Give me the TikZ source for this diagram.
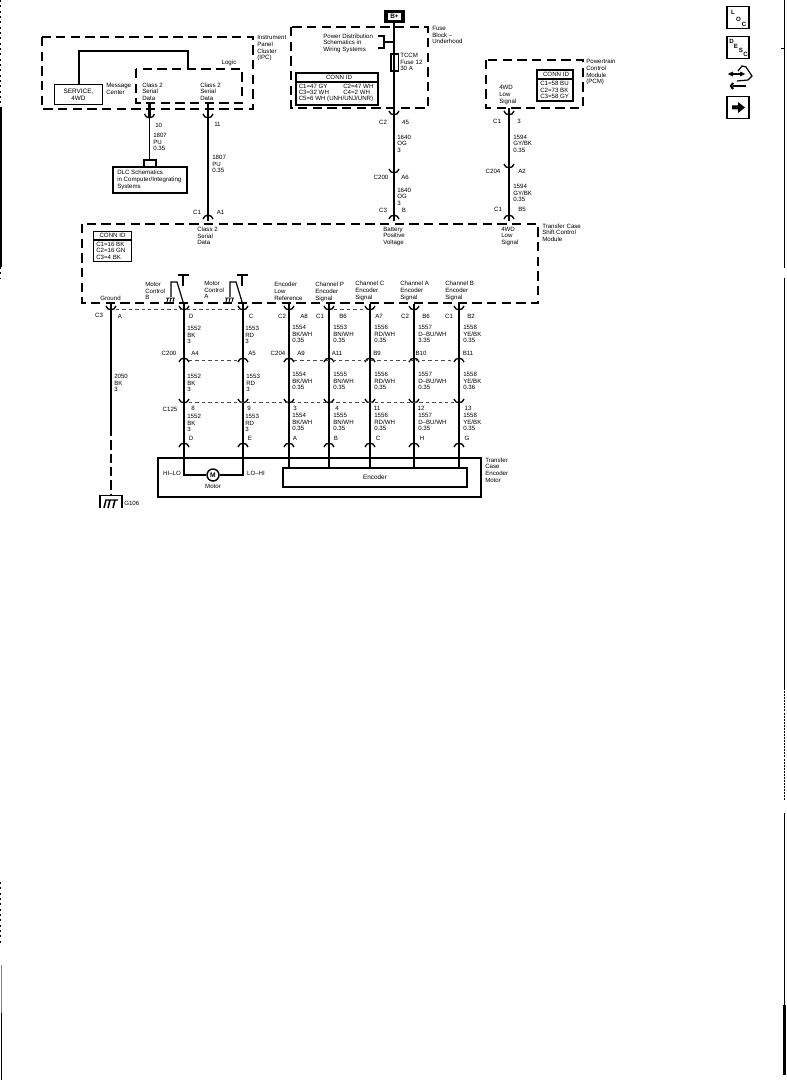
\documentclass[tikz,border=0pt]{standalone}
\usepackage{fontspec}
\setmainfont{Liberation Sans}
\usetikzlibrary{calc}
\tikzset{
  dbox/.style={draw,line width=1pt,dash pattern=on 7pt off 4pt},
  sbox/.style={draw,line width=0.9pt,fill=white},
  wire/.style={line width=0.9pt},
  stub/.style={line width=2pt},
  link/.style={line width=0.7pt,dash pattern=on 2.6pt off 2.2pt,black!70},
  lab/.style={font=\fontsize{4.6}{5}\selectfont,align=left,inner sep=0pt,anchor=north west},
  pinlab/.style={font=\fontsize{4.6}{5}\selectfont,inner sep=0pt},
  iconlet/.style={font=\fontsize{4.6}{5}\selectfont\bfseries,inner sep=0pt},
}
\newcommand{\cupc}[3]{%
  \coordinate (#1) at (#2,#3);
  \draw[line width=1pt] (#2-5,#3-4) .. controls (#2-4,#3+1) and (#2+4,#3+1) .. (#2+5,#3-4);
  \draw[stub] (#2,#3-6) -- (#2,#3);}
\newcommand{\capc}[3]{%
  \coordinate (#1) at (#2,#3);
  \draw[line width=1pt] (#2-5,#3+4) .. controls (#2-4,#3-1) and (#2+4,#3-1) .. (#2+5,#3+4);
  \draw[stub] (#2,#3) -- (#2,#3+6);}
\newcommand{\wirelab}[4]{\node[lab] at (#1,#2) {#3\\#4};}
\begin{document}
\begin{tikzpicture}[x=0.75pt,y=-0.75pt]
\useasboundingbox (0,0) rectangle (786,1080);
\fill[white] (0,0) rectangle (786,1080);

% ---- page edges
\draw[line width=0.8pt] (784.7,0) -- (784.7,268);
\draw[line width=0.8pt] (784.7,278) -- (784.7,688);
\draw[line width=0.8pt,dash pattern=on 1.5pt off 0.8pt] (784.7,688) -- (784.7,801);
\draw[line width=0.8pt] (784.7,813) -- (784.7,1005);
\draw[line width=1.8pt] (784.5,1005) -- (784.5,1075);
\draw[line width=0.6pt] (781,48) -- (785,48);
\draw[line width=0.9pt,dash pattern=on 1.5pt off 2.5pt] (0.7,0) -- (0.7,107);
\draw[line width=1.3pt] (0.7,107) -- (0.7,267);
\draw[line width=0.9pt,dash pattern=on 1.5pt off 2.5pt] (0.7,267) -- (0.7,278);
\draw[line width=0.9pt,dash pattern=on 1.5pt off 2.5pt] (0.7,882) -- (0.7,943);
\draw[line width=0.8pt,black!50] (1.3,965) -- (1.3,1013);
\draw[line width=1.1pt] (1.3,1013) -- (1.3,1080);

% ---- IPC
\draw[dbox] (42,37) rectangle (253,109);
\draw[dbox] (136,69) rectangle (242,103);
\node[sbox,minimum width=36.5pt,minimum height=15.5pt,inner sep=0pt,font=\fontsize{4.8}{5.4}\selectfont,align=center] (svc) at (78.5,94.5) {SERVICE,\\4WD};
\coordinate (lg) at (188,69);
\draw[wire] (79,84) |- (188,51) -- (lg);
\node[lab] at (106,83) {Message\\Center};
\node[lab] at (142,82.5) {Class 2\\Serial\\Data};
\node[lab] at (200,82.5) {Class 2\\Serial\\Data};
\node[pinlab] at (229,63) {Logic};
\node[lab] at (257,35.5) {Instrument\\Panel\\Cluster\\(IPC)};

% ---- DLC
\node[sbox,minimum width=55.5pt,minimum height=19.5pt,inner sep=0pt] (dlc) at (150,180) {};
\node[lab] at (117,170) {DLC Schematics\\in Computer/Integrating\\Systems};
\cupc{c10}{149.5}{118}
\cupc{c11}{208}{118}
\draw[stub] (149.5,103) -- (c10);
\draw[stub] (208,103) -- (c11);
\coordinate (brk) at (149.5,160);
\draw[wire] (c10) -- (brk);
\draw[line width=1pt] (144,167) -- (144,160) -- (156,160) -- (156,167);
\node[pinlab,anchor=west] at (155,125) {10};
\node[pinlab,anchor=west] at (214,124.5) {11};
\node[lab] at (153,133) {1807\\PU\\0.35};
\node[lab] at (212,155) {1807\\PU\\0.35};
\node[pinlab] at (197,212) {C1};
\node[pinlab] at (220.5,212) {A1};

% ---- Fuse block
\node[draw,line width=2.6pt,minimum width=12.5pt,minimum height=7.5pt,inner sep=0pt,font=\fontsize{4.8}{5}\selectfont\bfseries] (bp) at (394.5,16.5) {B+};
\draw[dbox] (291,27) rectangle (428,108);
\node[sbox,minimum width=5.4pt,minimum height=12.8pt,inner sep=0pt,fill=none] (fuse) at (394.5,62.5) {};
\cupc{c45}{394}{115}
\draw[wire] (394,23) -- (394,108);
\draw[stub] (394,108) -- (c45);
\draw[line width=0.9pt] (378,36) -- (384,36) -- (384,48) -- (378,48);
\draw[line width=0.9pt] (384,42) -- (394,42);
\node[lab] at (323,33.5) {Power Distribution\\Schematics in\\Wiring Systems};
\node[lab] at (400,53) {TCCM\\Fuse 12\\30 A};
\node[lab] at (432,26) {Fuse\\Block –\\Underhood};
\node[sbox,minimum width=61.5pt,minimum height=24pt,inner sep=0pt] (cn1) at (337,89) {};
\draw[line width=0.9pt] (296,82) -- (378,82);
\node[pinlab] at (339,77.5) {CONN ID};
\node[lab] at (298.5,84) {C1=47 GY};
\node[lab] at (343,84) {C2=47 WH};
\node[lab] at (298.5,90) {C3=32 WH};
\node[lab] at (343,90) {C4=2 WH};
\node[lab] at (298.5,96) {C5=6 WH (UNH/UNJ/UNR)};

% ---- B+ wire down
\capc{cb}{394}{215}
\cupc{ca6}{394}{173}
\draw[wire] (c45) -- (394,167);
\draw[wire] (ca6) -- (cb);
\node[pinlab] at (383,122) {C2};
\node[pinlab] at (405.5,122) {45};
\node[lab] at (397,134.5) {1640\\OG\\3};
\node[pinlab] at (381,177.5) {C200};
\node[pinlab] at (405,177) {A6};
\node[lab] at (397,187.5) {1640\\OG\\3};
\node[pinlab] at (383,210) {C3};
\node[pinlab] at (404,210) {B};

% ---- PCM
\draw[dbox] (486,60) rectangle (583,108);
\node[sbox,minimum width=27pt,minimum height=23.3pt,inner sep=0pt] (cn2) at (555,85.5) {};
\draw[line width=0.9pt] (537,79) -- (573,79);
\node[pinlab] at (556,74.5) {CONN ID};
\node[lab] at (540,81) {C1=58 BU\\C2=73 BK\\C3=58 GY};
\node[lab] at (499,85.5) {4WD\\Low\\Signal};
\node[lab] at (586,59) {Powertrain\\Control\\Module\\(PCM)};
\cupc{c3}{509}{115}
\cupc{ca2}{509}{168}
\capc{cb5}{509}{215}
\draw[stub] (509,108) -- (c3);
\draw[wire] (c3) -- (509,162);
\draw[wire] (ca2) -- (cb5);
\node[pinlab] at (497,121.5) {C1};
\node[pinlab] at (519,121.5) {3};
\node[lab] at (513,134.5) {1594\\GY/BK\\0.35};
\node[pinlab] at (493,171) {C204};
\node[pinlab] at (522,171) {A2};
\node[lab] at (513,184) {1594\\GY/BK\\0.35};
\node[pinlab] at (498,209) {C1};
\node[pinlab] at (522,209) {B5};

% ---- TCCM module
\draw[dbox] (82,224) rectangle (538,303);
\capc{ca1}{208}{215}
\draw[wire] (c11) -- (ca1);
\node[lab,fill=white,inner ysep=0.5pt] at (197,226) {Class 2\\Serial\\Data};
\node[lab,fill=white,inner ysep=0.5pt] at (383,226) {Battery\\Positive\\Voltage};
\node[lab,fill=white,inner ysep=0.5pt] at (501,226) {4WD\\Low\\Signal};
\node[lab] at (542,223.5) {Transfer Case\\Shift Control\\Module};
\node[sbox,minimum width=29pt,minimum height=23pt,inner sep=0pt] (cn3) at (112.5,246.5) {};
\draw[line width=0.9pt] (93,240) -- (132,240);
\node[pinlab] at (112.5,235.5) {CONN ID};
\node[lab] at (96,241.5) {C1=16 BK\\C2=16 GN\\C3=4 BK};
% switches
\draw[line width=0.9pt] (171,297) -- (171,282) -- (177,282) -- (184,305);
\draw[line width=0.9pt] (183,275) -- (183,286) (178,275) -- (189,275);
\draw[line width=0.7pt] (166,298) -- (175,298) (168,298) -- (167,302) (171,298) -- (170,302) (174,298) -- (173,302);
\draw[line width=0.9pt] (230,297) -- (230,282) -- (236,282) -- (243,305);
\draw[line width=0.9pt] (242,275) -- (242,286) (237,275) -- (248,275);
\draw[line width=0.7pt] (225,298) -- (234,298) (227,298) -- (226,302) (230,298) -- (229,302) (233,298) -- (232,302);
\node[lab] at (145,282) {Motor\\Control\\B};
\node[lab] at (204,281) {Motor\\Control\\A};
\node[lab] at (274,282) {Encoder\\Low\\Reference};
\node[lab] at (315,282) {Channel P\\Encoder\\Signal};
\node[lab] at (355,281) {Channel C\\Encoder\\Signal};
\node[lab] at (400,281) {Channel A\\Encoder\\Signal};
\node[lab] at (445,281) {Channel B\\Encoder\\Signal};
\node[pinlab,anchor=west] at (100,298.5) {Ground};

% ---- lower harness
\foreach \n/\xx in {g/111,d/184,e/243,a/289,b/329,c/370,h/414,j/459}{
  \cupc{t\n}{\xx}{310}
}
\foreach \n/\xx in {d/184,e/243,a/289,b/329,c/370,h/414,j/459}{
  \capc{m\n}{\xx}{358}
  \cupc{l\n}{\xx}{403}
  \capc{p\n}{\xx}{443}
  \draw[wire] (t\n) -- (m\n);
  \draw[wire] (m\n) -- (l\n);
  \draw[wire] (l\n) -- (p\n);
}
\draw[link] (116,309) -- (238,309);
\draw[link] (334,309) -- (365,309);
\draw[link] (189,360) -- (238,360);
\draw[link] (294,360) -- (454,360);
\draw[link] (189,402) -- (454,402);

% ground wire
\coordinate (gs) at (111,427);
\coordinate (gr) at (111,496);
\draw[wire] (tg) -- (gs);
\draw[wire,dash pattern=on 7pt off 3pt] (gs) -- (gr);
\draw[line width=1.1pt] (100,508) -- (100,495.5) -- (122,495.5) -- (122,508);
\draw[line width=1.1pt] (104,508) -- (106,500) -- (118,500) (110,500) -- (108,508) (115,500) -- (113,508);
\node[pinlab,anchor=west] at (124,503) {G106};
\node[pinlab] at (99,315.5) {C3};
\node[pinlab] at (120,316) {A};
\node[lab] at (114,374) {2050\\BK\\3};

\foreach \xx/\t in {191/D,251/C,304/A8,282/C2,343/B6,320/C1,379/A7,405/C2,426/B6,449/C1,471/B2}{
  \node[pinlab] at (\xx,316) {\t};}
\wirelab{187}{326}{1552\\BK}{3}
\wirelab{245}{326}{1553\\RD}{3}
\wirelab{292}{325}{1554\\BK/WH}{0.35}
\wirelab{333}{325}{1553\\BN/WH}{0.35}
\wirelab{374}{325}{1556\\RD/WH}{0.35}
\wirelab{418}{325}{1557\\D–BU/WH}{3.35}
\wirelab{463}{325}{1558\\YE/BK}{0.35}
\node[pinlab] at (169,353.5) {C200};
\node[pinlab] at (278,353.5) {C204};
\foreach \xx/\t in {195/A4,252/A5,301/A9,337/A11,377/B9,421/B10,468/B11}{
  \node[pinlab] at (\xx,353) {\t};}
\wirelab{187}{374}{1552\\BK}{3}
\wirelab{246}{374}{1553\\RD}{3}
\wirelab{292}{372}{1554\\BK/WH}{0.35}
\wirelab{333}{372}{1555\\BN/WH}{0.35}
\wirelab{374}{372}{1556\\RD/WH}{0.35}
\wirelab{418}{372}{1557\\D–BU/WH}{0.35}
\wirelab{463}{372}{1558\\YE/BK}{0.36}
\node[pinlab] at (170,409) {C125};
\foreach \xx/\t in {193/8,249/9,295/3,337/4,377/11,421/12,468/13}{
  \node[pinlab] at (\xx,408.5) {\t};}
\wirelab{187}{414}{1552\\BK}{3}
\wirelab{245}{414}{1553\\RD}{3}
\wirelab{292}{413}{1554\\BK/WH}{0.35}
\wirelab{333}{413}{1555\\BN/WH}{0.35}
\wirelab{374}{413}{1556\\RD/WH}{0.35}
\wirelab{418}{413}{1557\\D–BU/WH}{0.35}
\wirelab{463}{413}{1558\\YE/BK}{0.35}
\foreach \xx/\t in {191/D,250/E,295/A,336/B,378/C,422/H,467/G}{
  \node[pinlab] at (\xx,438) {\t};}

% ---- encoder motor
\node[sbox,fill=none,line width=1.1pt,minimum width=242.2pt,minimum height=29.2pt,inner sep=0pt] (mot) at (319.5,477.5) {};
\node[sbox,line width=1.1pt,minimum width=138pt,minimum height=14.2pt,inner sep=0pt,font=\fontsize{4.8}{5}\selectfont] (enc) at (375,477.5) {Encoder};
\node[draw,circle,line width=1.1pt,minimum size=9pt,inner sep=0pt,font=\fontsize{5}{5}\selectfont\bfseries] (m) at (213,475) {M};
\foreach \n in {a,b,c,h,j}{
  \draw[line width=1pt] (p\n) -- (p\n |- enc.north);}
\draw[line width=1.1pt] (pd) -- (184,475) -- (m.west);
\draw[line width=1.1pt] (pe) -- (243,475) -- (m.east);
\node[pinlab] at (172,473.5) {HI–LO};
\node[pinlab] at (256,473.5) {LO–HI};
\node[pinlab] at (213,486.5) {Motor};
\node[lab] at (485,457.5) {Transfer\\Case\\Encoder\\Motor};

% ---- icons
\node[draw,line width=0.8pt,minimum width=16.5pt,minimum height=16pt,inner sep=0pt] (loc) at (738,17.5) {};
\node[iconlet] at (733,12) {L};
\node[iconlet] at (738.5,19) {O};
\node[iconlet] at (744,24) {C};
\node[draw,line width=0.8pt,minimum width=16.5pt,minimum height=16pt,inner sep=0pt] (desc) at (738,47.5) {};
\node[iconlet] at (731.5,41) {D};
\node[iconlet] at (736,46) {E};
\node[iconlet] at (741,50) {S};
\node[iconlet] at (745.5,54) {C};
\draw[line width=1.4pt] (730,74) -- (742,74);
\draw[line width=0.7pt] (733,72) -- (729,74) -- (733,76) (740,72) -- (744,74) -- (740,76);
\draw[line width=0.9pt] (738,71) -- (742,66) -- (746,67) -- (752,76) -- (748,80) -- (737,81);
\draw[line width=1.6pt] (733,86) -- (746,86);
\draw[line width=1.6pt] (733,83) -- (731,86) -- (733,89);
\node[draw,line width=0.8pt,minimum width=16.5pt,minimum height=16pt,inner sep=0pt] (arr) at (738,107.5) {};
\fill (732,105.5) -- (738,105.5) -- (738,102) -- (745,107.5) -- (738,113) -- (738,109.5) -- (732,109.5) -- cycle;
\end{tikzpicture}
\end{document}
